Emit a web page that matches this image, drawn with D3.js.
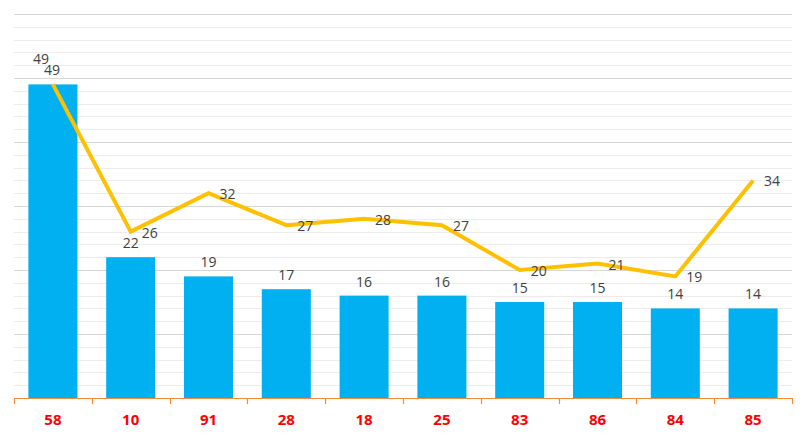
<!DOCTYPE html>
<html>
<head>
<meta charset="utf-8">
<script src="https://cdn.jsdelivr.net/npm/d3@7"></script>
<style>
  html, body { margin: 0; padding: 0; background: #fff; }
  svg { display: block; font-family: "Open Sans", "Noto Sans", sans-serif; }
</style>
</head>
<body>
<svg id="chart" width="806" height="438"></svg>
<script>
const categories = ['58', '10', '91', '28', '18', '25', '83', '86', '84', '85'];
const barValues = [49, 22, 19, 17, 16, 16, 15, 15, 14, 14];
const lineValues = [49, 26, 32, 27, 28, 27, 20, 21, 19, 34];
const majorTicks = [0, 10, 20, 30, 40, 50, 60];

const svg = d3.select('#chart');
const plotLeft = 14, plotRight = 792, plotTop = 14, plotBottom = 398;

const x = d3.scaleBand().domain(categories).range([plotLeft, plotRight]).paddingInner(0.37).paddingOuter(0.185);
const xb = d3.scaleBand().domain(categories).range([plotLeft, plotRight]);
const y = d3.scaleLinear().domain([0, 60]).range([plotBottom, plotTop]);

// minor grid
svg.append('g')
  .selectAll('line')
  .data(d3.range(0, 61, 2).filter(v => v % 10 !== 0))
  .join('line')
  .attr('x1', plotLeft).attr('x2', plotRight)
  .attr('y1', d => Math.round(y(d)) + 0.5).attr('y2', d => Math.round(y(d)) + 0.5)
  .attr('stroke', '#ececec').attr('stroke-width', 1);

// major grid
svg.append('g')
  .selectAll('line')
  .data(majorTicks.slice(1))
  .join('line')
  .attr('x1', plotLeft).attr('x2', plotRight)
  .attr('y1', d => Math.round(y(d)) + 0.5).attr('y2', d => Math.round(y(d)) + 0.5)
  .attr('stroke', '#d6d6d6').attr('stroke-width', 1);

// bars
svg.append('g')
  .selectAll('rect')
  .data(barValues)
  .join('rect')
  .attr('x', (d, i) => x(categories[i]))
  .attr('width', x.bandwidth())
  .attr('y', d => y(d))
  .attr('height', d => y(0) - y(d))
  .attr('fill', '#00b0f0');

// x axis
const axis = svg.append('g');
axis.append('line')
  .attr('x1', plotLeft).attr('x2', plotRight)
  .attr('y1', plotBottom + 0.5).attr('y2', plotBottom + 0.5)
  .attr('stroke', '#f08a3c').attr('stroke-width', 1.2);
axis.selectAll('line.tick')
  .data(categories.concat(['end']))
  .join('line')
  .attr('class', 'tick')
  .attr('x1', (d, i) => Math.round(i < categories.length ? xb(d) : plotRight) + 0.5)
  .attr('x2', (d, i) => Math.round(i < categories.length ? xb(d) : plotRight) + 0.5)
  .attr('y1', plotBottom).attr('y2', plotBottom + 6)
  .attr('stroke', '#f08a3c').attr('stroke-width', 1.2);
axis.selectAll('text')
  .data(categories)
  .join('text')
  .attr('x', d => xb(d) + xb.bandwidth() / 2)
  .attr('y', 425)
  .attr('text-anchor', 'middle')
  .attr('fill', '#ff0000')
  .attr('font-weight', 'bold')
  .attr('font-size', 15)
  .text(d => d);

// line
const cx = i => x(categories[i]) + x.bandwidth() / 2;
const line = d3.line().x((d, i) => cx(i)).y(d => y(d));
svg.append('path')
  .datum(lineValues)
  .attr('d', line)
  .attr('fill', 'none')
  .attr('stroke', '#ffc000')
  .attr('stroke-width', 4)
  .attr('stroke-linejoin', 'miter');

// labels (nudge when bar and line label collide)
const clash = i => Math.abs(y(lineValues[i]) - y(barValues[i])) < 8;

svg.append('g')
  .selectAll('text')
  .data(barValues)
  .join('text')
  .attr('x', (d, i) => cx(i) - (clash(i) ? 12 : 0))
  .attr('y', (d, i) => y(d) - 9 - (clash(i) ? 11 : 0))
  .attr('text-anchor', 'middle')
  .attr('fill', '#404040')
  .attr('font-size', 14)
  .text(d => d);

svg.append('g')
  .selectAll('text')
  .data(lineValues)
  .join('text')
  .attr('x', (d, i) => clash(i) ? cx(i) - 9 : cx(i) + 11)
  .attr('y', (d, i) => clash(i) ? y(d) - 9 : y(d) + 6)
  .attr('fill', '#404040')
  .attr('font-size', 14)
  .text(d => d);
</script>
</body>
</html>
